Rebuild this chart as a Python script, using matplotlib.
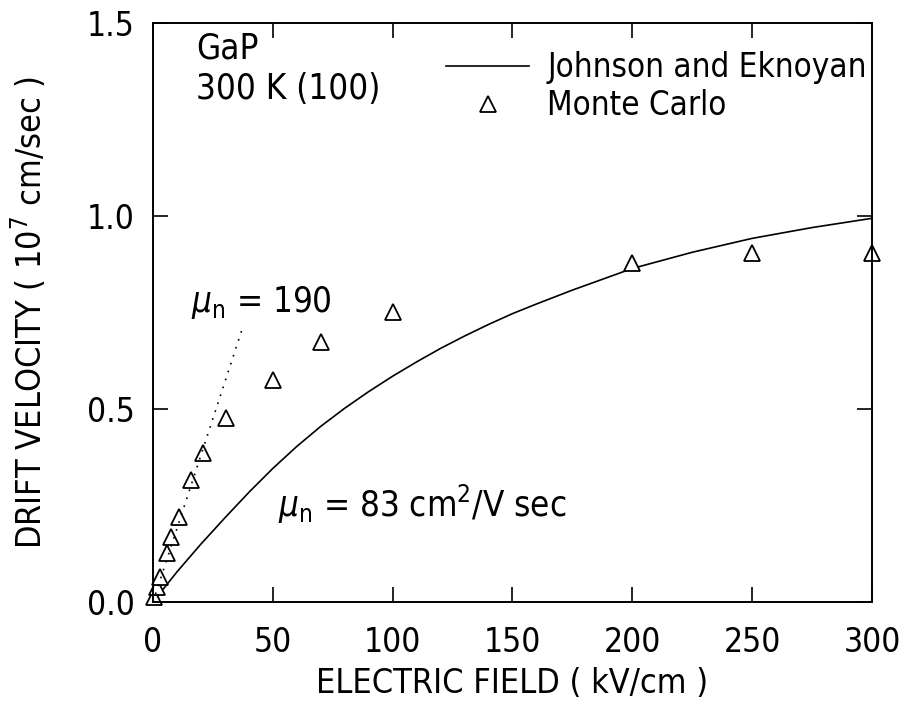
import matplotlib
matplotlib.use('Agg')
from matplotlib import pyplot as plt

# Johnson and Eknoyan velocity-field curve (kV/cm, 1e7 cm/sec)
je_field = [0, 10, 20, 30, 40, 50, 60, 70, 80, 90, 100, 110, 120, 130, 140,
            150, 160, 175, 200, 225, 250, 275, 300]
je_velocity = [0, 0.078, 0.150, 0.218, 0.284, 0.346, 0.403, 0.455, 0.502,
               0.545, 0.585, 0.622, 0.657, 0.689, 0.719, 0.747, 0.772, 0.808,
               0.864, 0.906, 0.942, 0.970, 0.994]

# Monte Carlo points
mc_field = [0.5, 1.5, 3, 5.7, 7.4, 10.8, 15.7, 20.7, 30.5, 50, 70, 100, 200, 250, 300]
mc_velocity = [0.012, 0.04, 0.066, 0.126, 0.169, 0.221, 0.316, 0.385, 0.476,
               0.575, 0.674, 0.751, 0.878, 0.904, 0.904]

# Low-field mobility line, mu = 190 cm^2/V sec
mu_field = [0, 37]
mu_velocity = [0, 0.703]

plt.rcParams['font.family'] = ['DejaVu Sans']
plt.rcParams['font.stretch'] = 'condensed'
plt.rcParams['mathtext.fontset'] = 'custom'
plt.rcParams['mathtext.rm'] = 'DejaVu Sans:stretch=condensed'
plt.rcParams['mathtext.it'] = 'DejaVu Sans:italic:stretch=condensed'

fig = plt.figure(figsize=(9.03, 7.11), dpi=100)
ax = fig.add_axes([0.1694, 0.1533, 0.7963, 0.8144])

ax.plot(je_field, je_velocity, color='black', lw=1.2, label='Johnson and Eknoyan')
ax.plot(mc_field, mc_velocity, linestyle='none', marker='^', markersize=11,
        markerfacecolor='white', markeredgecolor='black', markeredgewidth=1.3,
        clip_on=False, label='Monte Carlo')
ax.plot(mu_field, mu_velocity, color='black', lw=1.2, linestyle=(0, (1, 4)))

ax.set_xlim(0, 300)
ax.set_ylim(0, 1.5)
ax.set_xticks([0, 50, 100, 150, 200, 250, 300])
ax.set_yticks([0.0, 0.5, 1.0, 1.5])
ax.set_yticklabels(['0.0', '0.5', '1.0', '1.5'])
ax.tick_params(direction='in', length=11, width=1.2, top=True, right=True,
               labelsize=24)
ax.tick_params(axis='x', pad=17)
ax.tick_params(axis='y', pad=13)
for side in ax.spines.values():
    side.set_linewidth(1.4)

ax.set_xlabel('ELECTRIC FIELD ( kV/cm )', fontsize=24.5, labelpad=6)
ax.set_ylabel(r'DRIFT VELOCITY ( 10$^7$ cm/sec )', fontsize=24.5, labelpad=28)

ax.text(0.06, 0.985, 'GaP\n300 K (100)', transform=ax.transAxes,
        fontsize=25, va='top', ha='left', linespacing=1.25)
ax.text(16, 0.75, r'$\mu_{\rm n}$ = 190', fontsize=25)
ax.text(52, 0.22, r'$\mu_{\rm n}$ = 83 cm$^2$/V sec', fontsize=25)

ax.legend(loc='upper right', bbox_to_anchor=(1.02, 0.985), frameon=False,
          fontsize=23.8, handlelength=2.5, handletextpad=0.55, labelspacing=0.15,
          borderaxespad=0.2)

fig.savefig('out.png', dpi=100)
